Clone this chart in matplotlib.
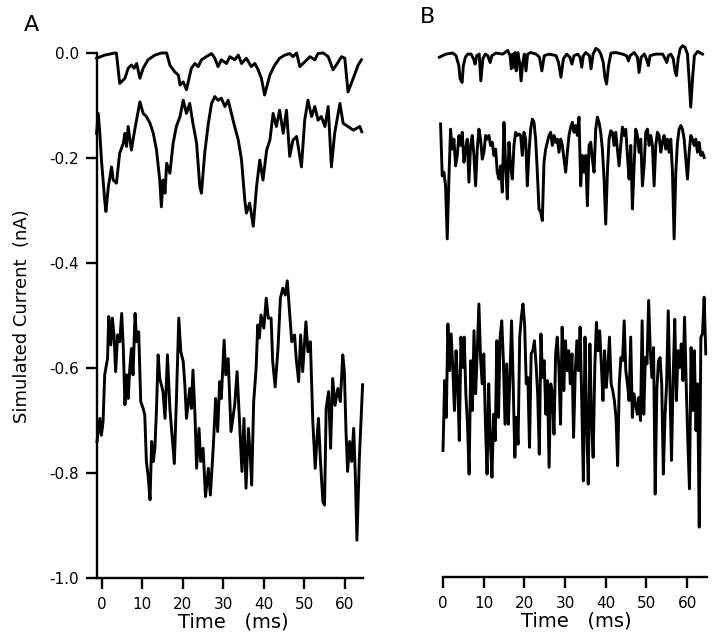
import numpy as np
import matplotlib
matplotlib.use("Agg")
import matplotlib.pyplot as plt

# panel A, top trace (time in ms, current in nA)
a_top_t = [-1.3, 0.7, 3.2, 3.6, 4.4, 5.7, 6.5, 7.3, 8.0, 8.6, 9.4, 10.2, 11.4, 13.1, 14.7, 16.0,
           16.8, 18.0, 18.9, 19.3, 20.1, 20.9, 22.1, 23.0, 23.8, 24.6, 25.8, 27.1, 27.9, 28.7, 29.5,
           30.8, 31.6, 32.8, 33.7, 34.5, 35.7, 36.9, 37.8, 38.6, 39.4, 40.2, 41.5, 42.7, 43.9, 45.2,
           46.4, 47.2, 48.1, 48.9, 50.1, 51.4, 52.6, 53.4, 54.7, 55.9, 57.1, 57.9, 59.2, 60.0, 60.8,
           62.1, 63.3, 64.1]
a_top_v = [-0.010, -0.004, 0.0, 0.0, -0.058, -0.048, -0.029, -0.023, -0.029, -0.020, -0.048, -0.029,
           -0.013, -0.004, 0.0, 0.0, -0.023, -0.036, -0.042, -0.061, -0.055, -0.070, -0.029, -0.020,
           -0.026, -0.013, -0.007, -0.001, -0.010, -0.026, -0.013, -0.020, -0.007, -0.013, -0.004,
           -0.020, -0.010, -0.026, -0.020, -0.032, -0.048, -0.080, -0.042, -0.023, -0.010, -0.004,
           -0.001, -0.007, 0.0, -0.026, -0.017, -0.007, -0.013, -0.001, 0.0, -0.007, -0.032, -0.023,
           -0.007, -0.010, -0.074, -0.048, -0.023, -0.013]

# panel A, middle trace
a_mid_t = [-1.3, -0.9, -0.5, -0.1, 0.7, 1.0, 1.6, 2.4, 2.8, 3.6, 4.4, 5.3, 5.7, 6.1, 6.5, 7.3, 8.1,
           9.4, 10.2, 11.0, 11.9, 12.7, 13.5, 14.3, 14.7, 15.1, 15.6, 16.0, 16.8, 17.6, 18.4, 19.3,
           20.1, 20.9, 21.7, 22.5, 23.4, 24.2, 24.6, 25.4, 26.3, 27.1, 27.9, 28.7, 29.5, 30.4, 31.2,
           32.0, 32.8, 33.7, 34.5, 35.3, 35.7, 36.5, 37.4, 38.2, 39.0, 39.8, 40.7, 41.5, 42.3, 43.1,
           43.9, 44.8, 45.6, 46.4, 47.2, 48.1, 49.3, 50.1, 50.9, 51.8, 52.6, 53.4, 54.2, 55.1, 55.9,
           56.7, 57.5, 58.8, 59.6, 60.8, 62.1, 63.7, 64.2]
a_mid_v = [-0.153, -0.115, -0.153, -0.204, -0.280, -0.302, -0.255, -0.217, -0.242, -0.248, -0.191,
           -0.172, -0.153, -0.178, -0.140, -0.185, -0.147, -0.093, -0.115, -0.121, -0.134, -0.153,
           -0.185, -0.242, -0.293, -0.242, -0.267, -0.210, -0.229, -0.172, -0.140, -0.121, -0.090,
           -0.115, -0.096, -0.134, -0.172, -0.255, -0.267, -0.191, -0.134, -0.096, -0.083, -0.090,
           -0.086, -0.102, -0.090, -0.115, -0.140, -0.166, -0.204, -0.280, -0.305, -0.286, -0.330,
           -0.255, -0.204, -0.242, -0.185, -0.166, -0.115, -0.140, -0.109, -0.153, -0.109, -0.197,
           -0.166, -0.159, -0.217, -0.128, -0.090, -0.121, -0.102, -0.128, -0.121, -0.140, -0.102,
           -0.217, -0.153, -0.096, -0.134, -0.140, -0.147, -0.140, -0.150]

# panel A, bottom trace
a_bot_t = [-1.2, -0.5, -0.1, 0.3, 0.7, 1.4, 1.7, 2.2, 2.6, 3.0, 3.4, 3.9, 4.4, 4.9, 5.3, 5.7, 6.1,
           6.5, 6.9, 7.3, 7.7, 8.2, 8.6, 9.1, 9.6, 10.2, 10.6, 11.0, 11.4, 11.9, 12.3, 12.7, 13.1,
           13.5, 13.9, 14.3, 14.7, 15.1, 15.6, 16.2, 16.8, 17.2, 17.9, 18.4, 19.0, 19.5, 20.1, 20.5,
           20.9, 21.7, 22.1, 22.5, 23.0, 23.4, 24.0, 24.4, 25.0, 25.6, 26.3, 26.8, 27.5, 28.1, 28.6,
           29.1, 29.5, 30.2, 30.6, 31.2, 31.9, 32.8, 33.4, 34.0, 34.6, 35.1, 35.6, 36.2, 36.7, 37.0,
           37.5, 38.1, 38.5, 38.9, 39.3, 40.0, 40.6, 41.1, 41.8, 42.2, 42.8, 43.5, 44.1, 44.7, 45.3,
           45.8, 46.3, 46.9, 47.6, 48.0, 48.6, 49.1, 49.6, 50.4, 50.9, 51.5, 52.1, 52.7, 53.2, 53.5,
           54.0, 54.6, 55.0, 55.4, 56.0, 56.5, 57.0, 57.6, 58.3, 58.9, 59.5, 59.9, 60.3, 60.7, 61.2,
           61.7, 62.2, 62.6, 63.0, 63.6, 64.4]
a_bot_v = [-0.740, -0.696, -0.728, -0.702, -0.613, -0.582, -0.502, -0.556, -0.505, -0.537, -0.607,
           -0.537, -0.550, -0.496, -0.563, -0.670, -0.613, -0.658, -0.601, -0.563, -0.613, -0.496,
           -0.550, -0.531, -0.664, -0.677, -0.690, -0.778, -0.804, -0.851, -0.740, -0.778, -0.753,
           -0.677, -0.575, -0.620, -0.632, -0.645, -0.696, -0.575, -0.677, -0.715, -0.782, -0.664,
           -0.505, -0.569, -0.588, -0.632, -0.696, -0.639, -0.677, -0.604, -0.689, -0.791, -0.715,
           -0.778, -0.753, -0.845, -0.791, -0.842, -0.753, -0.658, -0.721, -0.626, -0.658, -0.547,
           -0.613, -0.582, -0.721, -0.671, -0.607, -0.702, -0.797, -0.696, -0.829, -0.715, -0.772,
           -0.823, -0.664, -0.601, -0.518, -0.543, -0.499, -0.524, -0.467, -0.505, -0.505, -0.588,
           -0.636, -0.563, -0.467, -0.448, -0.461, -0.434, -0.486, -0.550, -0.537, -0.582, -0.626,
           -0.537, -0.607, -0.512, -0.569, -0.550, -0.702, -0.791, -0.728, -0.696, -0.778, -0.855,
           -0.861, -0.677, -0.645, -0.753, -0.620, -0.671, -0.639, -0.664, -0.575, -0.607, -0.721,
           -0.797, -0.740, -0.778, -0.715, -0.804, -0.928, -0.772, -0.632]

# panel B, top trace
b_top_t = [-0.9, 0.7, 2.4, 3.2, 3.9, 4.2, 4.7, 5.0, 5.5, 6.1, 6.9, 7.5, 7.9, 8.3, 8.9, 9.3, 9.8,
           10.4, 11.0, 11.6, 12.0, 13.0, 14.7, 15.9, 16.5, 16.8, 17.1, 17.4, 17.7, 18.0, 18.4,
           18.8, 19.2, 19.6, 20.0, 20.4, 20.8, 21.6, 22.9, 23.7, 24.3, 24.9, 26.1, 27.8, 28.4,
           29.0, 29.6, 30.4, 31.2, 31.7, 32.2, 33.1, 33.7, 34.1, 34.5, 35.1, 36.0, 36.4, 36.9,
           37.6, 38.3, 38.8, 39.4, 39.8, 40.2, 40.7, 41.3, 42.5, 44.1, 45.1, 45.6, 46.0, 47.0,
           47.8, 48.2, 48.7, 49.5, 50.0, 50.5, 50.9, 52.3, 54.0, 54.6, 55.0, 55.4, 56.0, 56.6,
           57.1, 57.4, 57.8, 58.3, 58.9, 59.5, 60.1, 60.5, 60.9, 61.4, 61.8, 62.6, 63.8]
b_top_v = [-0.010, -0.004, -0.002, -0.007, -0.026, -0.051, -0.058, -0.026, -0.010, -0.004, -0.004,
           -0.013, -0.023, -0.007, -0.004, -0.055, -0.013, -0.004, -0.007, -0.020, -0.007, -0.002,
           -0.004, 0.003, -0.007, -0.032, -0.004, -0.029, -0.001, -0.036, -0.001, -0.020, -0.055,
           -0.020, -0.004, -0.036, -0.004, -0.001, -0.004, -0.010, -0.036, -0.007, -0.004, -0.007,
           -0.020, -0.048, -0.013, -0.004, -0.010, -0.023, -0.007, -0.004, -0.010, -0.029, -0.007,
           -0.001, -0.007, -0.032, -0.004, 0.007, 0.003, -0.004, -0.020, -0.048, -0.061, -0.026,
           -0.002, -0.001, -0.004, -0.007, -0.017, -0.007, -0.001, -0.010, -0.039, -0.010, -0.004,
           -0.013, -0.026, -0.007, -0.004, -0.004, -0.013, -0.020, -0.007, -0.004, -0.013, -0.039,
           -0.045, -0.013, 0.006, 0.012, 0.009, -0.004, -0.051, -0.105, -0.045, -0.007, 0.001,
           -0.004]

# panel B, middle trace (evenly sampled from b_mid_start to b_mid_end)
b_mid_start, b_mid_end = -0.6, 64.2
b_mid_v = [-0.137, -0.236, -0.229, -0.255, -0.356, -0.242, -0.147, -0.185, -0.166, -0.217, -0.197,
           -0.159, -0.178, -0.153, -0.210, -0.185, -0.166, -0.248, -0.178, -0.159, -0.197, -0.255,
           -0.185, -0.147, -0.166, -0.204, -0.191, -0.159, -0.166, -0.159, -0.178, -0.172, -0.197,
           -0.185, -0.229, -0.242, -0.217, -0.267, -0.134, -0.217, -0.280, -0.172, -0.217, -0.242,
           -0.178, -0.153, -0.159, -0.156, -0.159, -0.197, -0.153, -0.166, -0.255, -0.191, -0.147,
           -0.128, -0.134, -0.166, -0.229, -0.299, -0.305, -0.321, -0.210, -0.185, -0.172, -0.159,
           -0.153, -0.178, -0.159, -0.172, -0.166, -0.191, -0.166, -0.178, -0.204, -0.229, -0.191,
           -0.159, -0.143, -0.134, -0.153, -0.140, -0.159, -0.124, -0.255, -0.197, -0.229, -0.197,
           -0.293, -0.178, -0.172, -0.204, -0.229, -0.147, -0.124, -0.134, -0.153, -0.185, -0.242,
           -0.328, -0.229, -0.166, -0.150, -0.153, -0.178, -0.153, -0.185, -0.217, -0.178, -0.143,
           -0.159, -0.147, -0.197, -0.242, -0.178, -0.299, -0.217, -0.147, -0.159, -0.191, -0.166,
           -0.255, -0.217, -0.153, -0.147, -0.178, -0.159, -0.178, -0.255, -0.178, -0.153, -0.159,
           -0.191, -0.172, -0.159, -0.185, -0.166, -0.191, -0.166, -0.229, -0.356, -0.229, -0.172,
           -0.147, -0.140, -0.147, -0.166, -0.204, -0.242, -0.191, -0.159, -0.166, -0.178, -0.166,
           -0.191, -0.172, -0.197, -0.191, -0.201]

# panel B, bottom trace (evenly sampled)
b_bot_start, b_bot_end = 0.0, 64.6
b_bot_v = [-0.759, -0.626, -0.696, -0.518, -0.607, -0.537, -0.601, -0.683, -0.569, -0.632, -0.740,
           -0.543, -0.601, -0.543, -0.651, -0.709, -0.804, -0.588, -0.683, -0.531, -0.651, -0.569,
           -0.480, -0.582, -0.632, -0.575, -0.709, -0.804, -0.632, -0.740, -0.810, -0.690, -0.740,
           -0.550, -0.696, -0.543, -0.512, -0.588, -0.709, -0.594, -0.709, -0.620, -0.512, -0.632,
           -0.772, -0.696, -0.747, -0.543, -0.505, -0.480, -0.518, -0.632, -0.620, -0.753, -0.575,
           -0.569, -0.550, -0.594, -0.651, -0.766, -0.537, -0.620, -0.588, -0.690, -0.626, -0.791,
           -0.632, -0.651, -0.728, -0.575, -0.543, -0.601, -0.709, -0.524, -0.645, -0.550, -0.607,
           -0.569, -0.632, -0.575, -0.734,
           -0.613, -0.550, -0.607, -0.524, -0.664, -0.817, -0.543, -0.709, -0.823, -0.556, -0.702,
           -0.772, -0.601, -0.515, -0.569, -0.531, -0.594, -0.664, -0.569, -0.639, -0.601, -0.543,
           -0.632, -0.645, -0.664, -0.696, -0.788, -0.632, -0.582, -0.588, -0.512, -0.607, -0.632,
           -0.664, -0.543, -0.696, -0.651, -0.670, -0.690, -0.658, -0.702, -0.512, -0.690, -0.582,
           -0.594, -0.473, -0.569, -0.620, -0.563, -0.842, -0.645, -0.588, -0.582, -0.632, -0.804,
           -0.696, -0.632, -0.493, -0.632, -0.778, -0.620, -0.509, -0.664, -0.569, -0.601, -0.556,
           -0.626, -0.505, -0.632, -0.740, -0.832, -0.563, -0.683, -0.569, -0.721, -0.632, -0.905,
           -0.543, -0.537, -0.467, -0.575]

x_ticks = [0, 10, 20, 30, 40, 50, 60]
y_ticks = [0.0, -0.2, -0.4, -0.6, -0.8, -1.0]
y_tick_labels = ["0.0", "-0.2", "-0.4", "-0.6", "-0.8", "-1.0"]

lw = 2.1
fig = plt.figure(figsize=(7.2, 6.41), dpi=100)

axA = fig.add_axes([97 / 720, 63 / 641, 266 / 720, 525 / 641])
axB = fig.add_axes([443 / 720, 64 / 641, 264 / 720, 525 / 641])

for t, v in [(a_top_t, a_top_v), (a_mid_t, a_mid_v), (a_bot_t, a_bot_v)]:
    axA.plot(t, v, color="black", lw=lw, clip_on=False)

axB.plot(b_top_t, b_top_v, color="black", lw=lw, clip_on=False)
axB.plot(np.linspace(b_mid_start, b_mid_end, len(b_mid_v)), b_mid_v, color="black", lw=lw, clip_on=False)
axB.plot(np.linspace(b_bot_start, b_bot_end, len(b_bot_v)), b_bot_v, color="black", lw=lw, clip_on=False)

axA.set_xlim(-1.2, 64.5)
axB.set_xlim(0, 64.9)
for ax in (axA, axB):
    ax.set_ylim(-1.0, 0.0)
    ax.spines["top"].set_visible(False)
    ax.spines["right"].set_visible(False)
    ax.spines["bottom"].set_linewidth(1.7)
    ax.spines["left"].set_linewidth(1.7)
    ax.set_xticks(x_ticks)
    ax.set_xticklabels([str(x) for x in x_ticks])
    ax.tick_params(axis="x", direction="out", length=8, width=1.7, labelsize=11, pad=6)

axA.set_yticks(y_ticks)
axA.set_yticklabels(y_tick_labels)
axA.tick_params(axis="y", direction="out", length=8, width=1.7, labelsize=11, pad=5)

axB.spines["left"].set_visible(False)
axB.set_yticks([])

fig.text(233 / 720, 1 - 622 / 641, "Time   (ms)", ha="center", va="center", fontsize=14)
fig.text(576 / 720, 1 - 621 / 641, "Time   (ms)", ha="center", va="center", fontsize=14)
fig.text(22 / 720, 1 - 316 / 641, "Simulated Current  (nA)", rotation=90,
         ha="center", va="center", fontsize=13)
fig.text(31 / 720, 1 - 25 / 641, "A", ha="center", va="center", fontsize=16)
fig.text(428 / 720, 1 - 17 / 641, "B", ha="center", va="center", fontsize=16)

fig.savefig("out.png", dpi=100)
